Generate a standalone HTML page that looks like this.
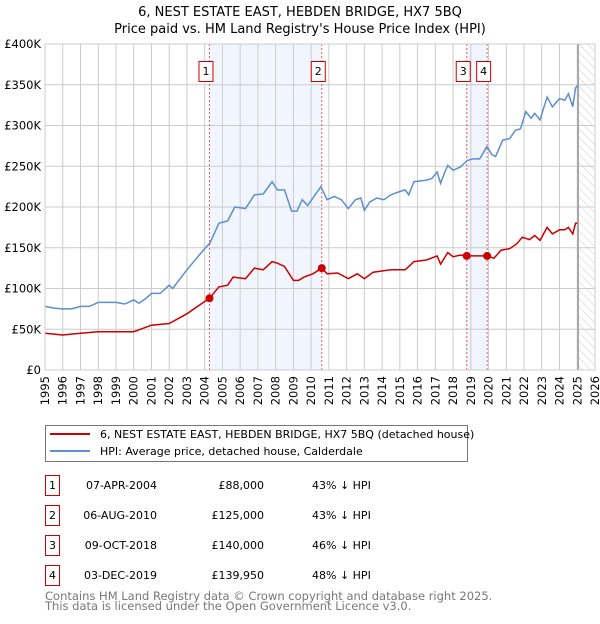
<!DOCTYPE html>
<html><head><meta charset="utf-8"><style>
body{margin:0;background:#fff;width:600px;height:620px;overflow:hidden;font-family:"DejaVu Sans","Liberation Sans",sans-serif}
svg text{font-family:"DejaVu Sans","Liberation Sans",sans-serif}
</style></head><body>
<svg id="c" width="600" height="620" xmlns="http://www.w3.org/2000/svg">
<defs><pattern id="hatch" width="6" height="6" patternUnits="userSpaceOnUse" patternTransform="rotate(-45)"><line x1="0" y1="0" x2="0" y2="6" stroke="#ccc" stroke-width="1"/></pattern></defs>
<text x="300" y="16" text-anchor="middle" font-size="13" fill="#000">6, NEST ESTATE EAST, HEBDEN BRIDGE, HX7 5BQ</text>
<text x="300" y="33" text-anchor="middle" font-size="13" fill="#000">Price paid vs. HM Land Registry's House Price Index (HPI)</text>
<g id="plot"></g>
<g>
<rect x="45.5" y="425.5" width="422" height="36" fill="#fff" stroke="#777"/>
<line x1="50" y1="434" x2="90" y2="434" stroke="#cc0000" stroke-width="2"/>
<text x="100" y="438" font-size="11">6, NEST ESTATE EAST, HEBDEN BRIDGE, HX7 5BQ (detached house)</text>
<line x1="50" y1="451" x2="90" y2="451" stroke="#5b8fd0" stroke-width="2"/>
<text x="100" y="455" font-size="11">HPI: Average price, detached house, Calderdale</text>
</g>
<g id="table" font-size="11"></g>
<text x="45" y="600" font-size="11.5" fill="#777">Contains HM Land Registry data © Crown copyright and database right 2025.</text>
<text x="45" y="610" font-size="11.5" fill="#777">This data is licensed under the Open Government Licence v3.0.</text>
</svg>
<script>
const hpiYears=[1995,1995.5,1996,1996.5,1997,1997.5,1998,1998.5,1999,1999.5,2000,2000.3,2000.7,2001,2001.5,2002,2002.2,2003,2004,2004.3,2004.8,2005.3,2005.7,2006.3,2006.8,2007.3,2007.8,2008.1,2008.5,2008.9,2009.2,2009.5,2009.8,2010.1,2010.55,2010.9,2011.3,2011.7,2012.1,2012.5,2012.8,2013.0,2013.3,2013.7,2014.1,2014.5,2015.0,2015.3,2015.5,2015.8,2016.5,2016.8,2017.1,2017.3,2017.5,2017.7,2018.0,2018.4,2018.8,2019.1,2019.5,2019.9,2020.2,2020.4,2020.8,2021.2,2021.5,2021.8,2022.1,2022.4,2022.6,2022.9,2023.3,2023.6,2024.0,2024.3,2024.5,2024.75,2024.9,2025.0];
const hpiValues=[78,76,75,75,78,78,83,83,83,81,86,82,88,94,94,104,100,123,149,156,180,183,200,198,215,216,231,221,221,195,195,209,202,211,225,209,213,209,198,209,211,196,206,211,209,215,219,221,215,231,233,235,243,229,241,251,245,249,257,259,259,274,264,262,282,284,294,296,317,309,315,307,335,323,333,331,339,323,346,349];
const ppYears=[1995,1996,1997,1998,1999,2000,2001,2002,2003,2004,2004.27,2004.8,2005.3,2005.6,2006.3,2006.8,2007.3,2007.8,2008.1,2008.5,2009.0,2009.3,2009.6,2010.1,2010.6,2010.9,2011.5,2012.1,2012.6,2013,2013.5,2014.5,2015.3,2015.8,2016.5,2017.1,2017.3,2017.7,2018.0,2018.4,2018.77,2019.1,2019.5,2019.92,2020.3,2020.7,2021.2,2021.6,2021.9,2022.3,2022.6,2022.9,2023.3,2023.6,2024.0,2024.3,2024.5,2024.75,2024.9,2025.0];
const ppValues=[45,43,45,47,47,47,55,57,69,84,88,102,104,114,112,125,123,133,131,127,110,110,114,118,125,118,119,112,118,112,120,123,123,133,135,140,130,144,139,141,140,140,140,140,137,147,149,155,163,160,165,159,175,167,172,172,175,167,180,180];
const saleYears=[2004.27,2010.6,2018.77,2019.92];
const saleValues=[88,125,140,139.95];
const saleLabels=["1","2","3","4"];
const saleDates=["07-APR-2004","06-AUG-2010","09-OCT-2018","03-DEC-2019"];
const salePrices=["£88,000","£125,000","£140,000","£139,950"];
const salePct=["43% ↓ HPI","43% ↓ HPI","46% ↓ HPI","48% ↓ HPI"];
const yTicks=[0,50,100,150,200,250,300,350,400];
const yTickLabels=["£0","£50K","£100K","£150K","£200K","£250K","£300K","£350K","£400K"];
const xTicks=[1995,1996,1997,1998,1999,2000,2001,2002,2003,2004,2005,2006,2007,2008,2009,2010,2011,2012,2013,2014,2015,2016,2017,2018,2019,2020,2021,2022,2023,2024,2025,2026];
const dataEnd=2025.05;

const NS="http://www.w3.org/2000/svg";
const L=45,R=595,T=44,B=370;
const X=y=>L+(y-1995)/(2026-1995)*(R-L);
const Y=v=>B-v/400*(B-T);
const plot=document.getElementById('plot');
function mk(tag,attrs,parent){const e=document.createElementNS(NS,tag);for(const k in attrs)e.setAttribute(k,attrs[k]);(parent||plot).appendChild(e);return e;}
// shading
let s1=mk('rect',{x:X(saleYears[0]),y:T,width:X(saleYears[1])-X(saleYears[0]),height:B-T,fill:'#eef3fc',opacity:0.8});


let s2=mk('rect',{x:X(saleYears[2]),y:T,width:X(saleYears[3])-X(saleYears[2]),height:B-T,fill:'#eef3fc',opacity:0.8});


let hz=mk('rect',{x:X(dataEnd),y:T,width:R-X(dataEnd),height:B-T,fill:'url(#hatch)'});


// grid
yTicks.forEach((v,i)=>{
 let g=mk('line',{x1:L,x2:R,y1:Y(v),y2:Y(v),stroke:'#ccc','stroke-width':1});
 
 
 let t=mk('text',{x:L-4,y:Y(v)+4,'text-anchor':'end','font-size':'11.5',fill:'#000'});
 t.textContent=yTickLabels[i];
 
 
});
xTicks.forEach(yr=>{
 let g=mk('line',{x1:X(yr),x2:X(yr),y1:T,y2:B,stroke:'#ccc','stroke-width':1});
 
 
 let t=mk('text',{x:0,y:0,'text-anchor':'end','font-size':'11.5',fill:'#000',transform:`translate(${X(yr)+4},${B+6}) rotate(-90)`});
 t.textContent=yr;
 
 
});
let el=mk('line',{x1:X(dataEnd),x2:X(dataEnd),y1:T,y2:B,stroke:'#999','stroke-width':1.5});


// sale vlines
saleYears.forEach((yr,i)=>{
 let v=mk('line',{x1:X(yr),x2:X(yr),y1:T,y2:B,stroke:'#e06060','stroke-width':1,'stroke-dasharray':'2,2'});
 
 
});
// series
function line(xs,vs,color,name){
 let d=xs.map((x,i)=>(i?'L':'M')+X(x).toFixed(1)+','+Y(vs[i]).toFixed(1)).join('');
 let p=mk('path',{d:d,fill:'none',stroke:color,'stroke-width':1.5});
 
 
}
line(hpiYears,hpiValues,'#5b8fd0','hpi-line');
line(ppYears,ppValues,'#cc0000','property-price-line');
saleYears.forEach((yr,i)=>{
 let c=mk('circle',{cx:X(yr),cy:Y(saleValues[i]),r:4,fill:'#cc0000'});
 
 
 let b=mk('rect',{x:X(yr)-10.5,y:61.5,width:14,height:20,fill:'#fff',stroke:'#cc0000'});
 
 
 let t=mk('text',{x:X(yr)-3.5,y:75,'text-anchor':'middle','font-size':'11'});
 t.textContent=saleLabels[i];
 
 
});
let ax=mk('rect',{x:L,y:T,width:R-L,height:B-T,fill:'none',stroke:'#ccc'});


// table
const tb=document.getElementById('table');
saleLabels.forEach((lb,i)=>{
 const y0=475+i*30;
 let b=mk('rect',{x:45.5,y:y0+0.5,width:14,height:20,fill:'#fff',stroke:'#cc0000'},tb);
 
 
 let t=mk('text',{x:52.5,y:y0+14,'text-anchor':'middle'},tb);t.textContent=lb;
 
 
 let d=mk('text',{x:157,y:y0+14,'text-anchor':'end'},tb);d.textContent=saleDates[i];
 
 
 let p=mk('text',{x:264,y:y0+14,'text-anchor':'end'},tb);p.textContent=salePrices[i];
 
 
 let q=mk('text',{x:312,y:y0+14},tb);q.textContent=salePct[i];
 
 
});
</script>
</body></html>
